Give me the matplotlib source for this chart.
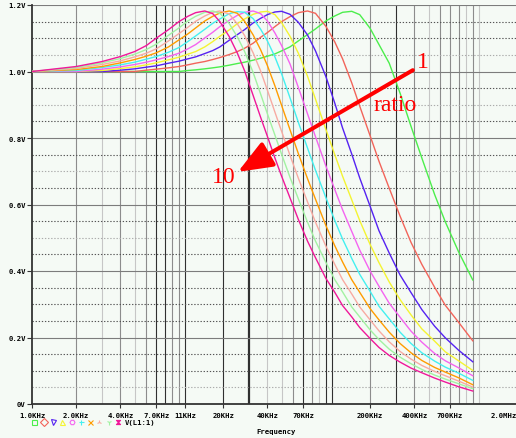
import matplotlib
matplotlib.use("Agg")
import matplotlib.pyplot as plt
from matplotlib.path import Path

# frequency points (kHz)
freq_khz = [1, 2, 3, 4, 5, 6, 7, 8.5, 10, 11.5, 13, 15, 17, 19, 22, 25, 28, 32, 36, 40,
            45, 50, 57, 65, 75, 85, 100, 115, 130, 150, 170, 200, 230, 270, 320, 380,
            450, 550, 650, 800, 1000]

# V(L1:1) for ratio 1 .. 10
ratio_1 = [1.000, 1.000, 1.000, 1.000, 1.000, 1.000, 1.000, 1.000, 1.000, 1.003, 1.005,
           1.008, 1.011, 1.014, 1.019, 1.024, 1.028, 1.034, 1.040, 1.046, 1.053, 1.062,
           1.074, 1.092, 1.111, 1.128, 1.152, 1.167, 1.178, 1.181, 1.171, 1.130, 1.081,
           1.025, 0.935, 0.835, 0.740, 0.630, 0.548, 0.458, 0.373]
ratio_2 = [1.000, 1.000, 1.000, 1.000, 1.000, 1.004, 1.007, 1.011, 1.015, 1.020, 1.025,
           1.030, 1.036, 1.042, 1.051, 1.060, 1.070, 1.085, 1.103, 1.117, 1.135, 1.150,
           1.165, 1.177, 1.182, 1.175, 1.136, 1.089, 1.038, 0.966, 0.896, 0.807, 0.730,
           0.649, 0.565, 0.486, 0.420, 0.351, 0.297, 0.246, 0.190]
ratio_3 = [1.000, 1.000, 1.000, 1.004, 1.008, 1.013, 1.017, 1.025, 1.031, 1.038, 1.044,
           1.054, 1.063, 1.074, 1.094, 1.111, 1.126, 1.146, 1.160, 1.171, 1.179, 1.181,
           1.172, 1.148, 1.110, 1.062, 0.985, 0.905, 0.830, 0.752, 0.680, 0.595, 0.521,
           0.454, 0.388, 0.335, 0.284, 0.234, 0.199, 0.162, 0.127]
ratio_4 = [1.000, 1.000, 1.003, 1.009, 1.014, 1.020, 1.026, 1.035, 1.043, 1.052, 1.060,
           1.074, 1.090, 1.106, 1.125, 1.144, 1.158, 1.172, 1.179, 1.181, 1.171, 1.147,
           1.106, 1.055, 0.986, 0.917, 0.826, 0.750, 0.685, 0.614, 0.552, 0.480, 0.425,
           0.367, 0.314, 0.268, 0.226, 0.189, 0.157, 0.130, 0.101]
ratio_5 = [1.000, 1.000, 1.007, 1.014, 1.021, 1.028, 1.035, 1.045, 1.055, 1.068, 1.081,
           1.101, 1.118, 1.135, 1.154, 1.169, 1.178, 1.182, 1.174, 1.152, 1.116, 1.078,
           1.023, 0.952, 0.873, 0.804, 0.716, 0.645, 0.584, 0.519, 0.463, 0.400, 0.354,
           0.303, 0.261, 0.219, 0.186, 0.152, 0.130, 0.109, 0.085]
ratio_6 = [1.000, 1.003, 1.012, 1.020, 1.028, 1.037, 1.045, 1.058, 1.072, 1.090, 1.107,
           1.127, 1.145, 1.158, 1.174, 1.180, 1.178, 1.159, 1.127, 1.092, 1.044, 0.993,
           0.921, 0.847, 0.770, 0.703, 0.621, 0.552, 0.496, 0.438, 0.390, 0.339, 0.294,
           0.256, 0.216, 0.182, 0.154, 0.129, 0.111, 0.093, 0.071]
ratio_7 = [1.000, 1.006, 1.015, 1.026, 1.036, 1.046, 1.056, 1.074, 1.095, 1.113, 1.131,
           1.152, 1.166, 1.176, 1.182, 1.175, 1.151, 1.110, 1.065, 1.018, 0.957, 0.898,
           0.825, 0.753, 0.678, 0.616, 0.537, 0.476, 0.427, 0.374, 0.336, 0.287, 0.253,
           0.216, 0.182, 0.154, 0.131, 0.110, 0.096, 0.079, 0.058]
ratio_8 = [1.000, 1.009, 1.021, 1.032, 1.044, 1.055, 1.068, 1.092, 1.114, 1.133, 1.151,
           1.167, 1.178, 1.182, 1.173, 1.143, 1.108, 1.056, 1.001, 0.944, 0.878, 0.820,
           0.748, 0.679, 0.608, 0.547, 0.475, 0.420, 0.374, 0.331, 0.292, 0.253, 0.220,
           0.187, 0.158, 0.135, 0.116, 0.098, 0.085, 0.069, 0.051]
ratio_9 = [1.000, 1.012, 1.026, 1.039, 1.052, 1.066, 1.082, 1.109, 1.131, 1.152, 1.166,
           1.178, 1.182, 1.175, 1.144, 1.104, 1.060, 0.997, 0.932, 0.873, 0.809, 0.751,
           0.682, 0.617, 0.547, 0.490, 0.426, 0.374, 0.337, 0.292, 0.262, 0.223, 0.194,
           0.165, 0.141, 0.121, 0.104, 0.087, 0.075, 0.061, 0.046]
ratio_10 = [1.000, 1.015, 1.030, 1.045, 1.060, 1.078, 1.100, 1.126, 1.150, 1.166, 1.177,
            1.182, 1.174, 1.150, 1.105, 1.055, 1.002, 0.928, 0.862, 0.805, 0.740, 0.685,
            0.620, 0.555, 0.490, 0.440, 0.378, 0.336, 0.296, 0.262, 0.230, 0.197, 0.170,
            0.146, 0.126, 0.108, 0.094, 0.078, 0.066, 0.052, 0.039]

series = [ratio_1, ratio_2, ratio_3, ratio_4, ratio_5,
          ratio_6, ratio_7, ratio_8, ratio_9, ratio_10]
colors = ["#4cee4c", "#f2645a", "#5522f2", "#f4f432", "#f464f0",
          "#44f0f0", "#ff9c00", "#f8aaa2", "#a2f2a2", "#f0189a"]

xtick_pos = [1, 2, 4, 7, 11, 20, 40, 70, 200, 400, 700, 2000]
xtick_lab = ["1.0KHz", "2.0KHz", "4.0KHz", "7.0KHz", "11KHz", "20KHz", "40KHz",
             "70KHz", "200KHz", "400KHz", "700KHz", "2.0MHz"]
ytick_pos = [0, 0.2, 0.4, 0.6, 0.8, 1.0, 1.2]
ytick_lab = ["0V", "0.2V", "0.4V", "0.6V", "0.8V", "1.0V", "1.2V"]

# vertical grid lines, grouped by how dark they look in the original
grid_dark = [7, 8, 11, 20, 30, 70, 100, 110, 300]
grid_mid = [2, 4, 6, 9, 10, 60, 80, 200, 400, 600, 700, 800, 1000]
grid_light = [3, 5, 40, 50, 90, 500, 900, 1100]
hgrid_solid = [0.2, 0.4, 0.6, 0.8, 1.0, 1.2]
hgrid_dot_dark = [0.1, 0.15, 0.25, 0.3, 0.35, 0.45, 0.55, 0.65, 0.75, 0.85, 0.95, 1.1, 1.15]
hgrid_dot_light = [0.05, 0.5, 0.7, 0.9, 1.05]

bg = "#f5faf5"
W, H = 516, 439
fig = plt.figure(figsize=(W / 100, H / 100), dpi=100, facecolor=bg)
ax = fig.add_axes([32 / W, (H - 405) / H, 485 / W, 399 / H])
ax.set_facecolor(bg)
ax.set_xscale("log")
ax.set_xlim(1, 2000)
ax.set_ylim(0, 1.2)

for f in grid_dark:
    ax.axvline(f, color="#303030", lw=1.6 if f == 30 else 0.8, zorder=1)
for f in grid_mid:
    ax.axvline(f, color="#8c8c8c", lw=0.8, zorder=1)
for f in grid_light:
    ax.axvline(f, color="#c6c6c6", lw=0.8, zorder=1)
for v in hgrid_solid:
    ax.axhline(v, color="#7c7c7c", lw=0.8, zorder=1)
for v in hgrid_dot_dark:
    ax.axhline(v, color="#555555", lw=0.8, ls=(0, (1.2, 1.6)), zorder=1)
for v in hgrid_dot_light:
    ax.axhline(v, color="#ababab", lw=0.8, ls=(0, (1.2, 1.6)), zorder=1)

for vals, c in zip(series, colors):
    ax.plot(freq_khz, vals, color=c, lw=1.0, zorder=3, solid_joinstyle="round")

tick_font = dict(family="DejaVu Sans Mono", size=5.2, weight="bold")
ax.set_xticks(xtick_pos)
ax.set_xticklabels(xtick_lab, **tick_font)
ax.xaxis.set_minor_locator(plt.NullLocator())
ax.set_yticks(ytick_pos)
ax.set_yticklabels(ytick_lab, **tick_font)
ax.get_xticklabels()[-1].set_ha("right")
ax.tick_params(axis="x", length=3, width=0.8, color="#333333", pad=2.5)
ax.tick_params(axis="y", length=3.5, width=0.8, color="#333333", pad=1)
for side in ["top", "right"]:
    ax.spines[side].set_visible(False)
for side in ["left", "bottom"]:
    ax.spines[side].set_color("#333333")
    ax.spines[side].set_linewidth(1.3)

# ratio arrow and labels
ax.annotate("", xy=(25.2, 0.698), xytext=(391, 1.004),
            arrowprops=dict(arrowstyle="-|>,head_length=1.05,head_width=0.42",
                            mutation_scale=20, lw=2.9, color="red",
                            shrinkA=0, shrinkB=0), zorder=6)
serif = dict(family="Liberation Serif", size=17, color="red", zorder=7)
ax.text(457, 1.03, "1", ha="center", va="center", **serif)
ax.text(295, 0.90, "ratio", ha="center", va="center", **serif)
ax.text(20.2, 0.683, "10", ha="center", va="center", **serif)

# legend row and axis title in pixel space
ov = fig.add_axes([0, 0, 1, 1])
ov.set_xlim(0, W)
ov.set_ylim(H, 0)
ov.axis("off")
hourglass = Path([(-1, 1), (1, 1), (-1, -1), (1, -1), (-1, 1)],
                 [Path.MOVETO, Path.LINETO, Path.LINETO, Path.LINETO, Path.CLOSEPOLY])
markers = ["s", "D", "v", "^", "H", "+", "x", "2", "1", hourglass]
for i, (m, c) in enumerate(zip(markers, colors)):
    filled = m in ("+", "x", "1", "2") or m is hourglass
    ov.plot(34.3 + 9.3 * i, 423, marker=m, ms=3.6 if m is not hourglass else 3,
            mfc=c if filled else "none", mec=c, mew=0.8, color=c)
ov.text(125, 423, "V(L1:1)", ha="left", va="center", **tick_font)
ov.text(276, 432, "Frequency", ha="center", va="center", **tick_font)

fig.savefig("out.png", dpi=100, facecolor=bg)
